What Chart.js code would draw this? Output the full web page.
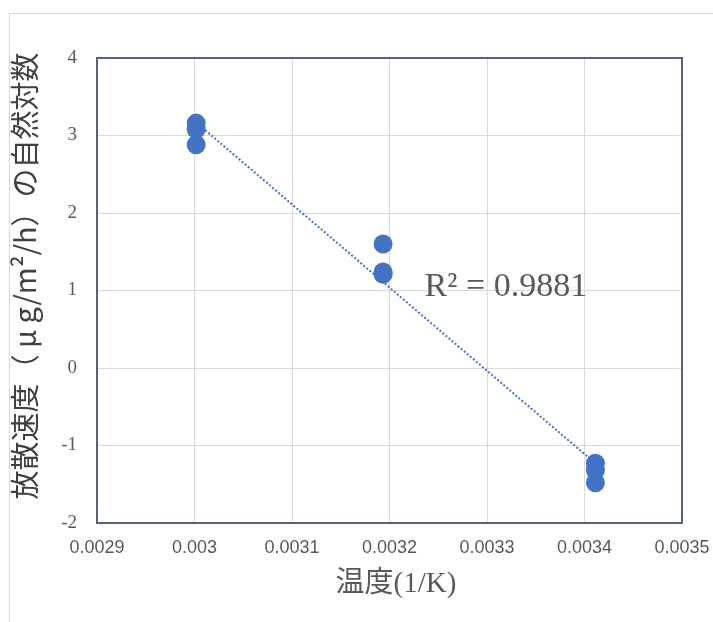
<!DOCTYPE html>
<html><head><meta charset="utf-8">
<script src="https://cdn.jsdelivr.net/npm/chart.js@4.4.1/dist/chart.umd.min.js"></script>
<style>
html,body{margin:0;padding:0;background:#fff;overflow:hidden}
#wrap{position:relative;width:713px;height:622px;overflow:hidden}
#frame{position:absolute;left:9px;top:13px;width:760px;height:700px;border:1px solid #d9d9d9;box-sizing:border-box;pointer-events:none}
canvas{position:absolute;left:0;top:0}
</style></head><body>
<div id="wrap"><canvas id="c" width="713" height="622"></canvas><div id="frame"></div></div>
<script>
// inverse temperature (1/K) of each measurement
const invTemp = [0.0030017, 0.0030017, 0.0030017, 0.0031934, 0.0031934, 0.0031934, 0.0034112, 0.0034112, 0.0034112];
// natural log of emission rate
const lnRate = [3.16, 3.08, 2.88, 1.60, 1.24, 1.21, -1.23, -1.32, -1.48];
const xTickLabels = ['0.0029', '0.003', '0.0031', '0.0032', '0.0033', '0.0034', '0.0035'];
const yTickLabels = ['-2', '-1', '0', '1', '2', '3', '4'];
const xTitle = '温度(1/K)';
const yTitle = '放散速度（ μ g/m²/h）の自然対数';
const r2Label = 'R² = 0.9881';
const r2Anchor = [0.003236, 0.93];

const points = invTemp.map((x, i) => ({x: x, y: lnRate[i]}));
// least squares trendline
const n = invTemp.length;
const mx = invTemp.reduce((a, b) => a + b, 0) / n;
const my = lnRate.reduce((a, b) => a + b, 0) / n;
let sxy = 0, sxx = 0;
for (let i = 0; i < n; i++) { sxy += (invTemp[i] - mx) * (lnRate[i] - my); sxx += (invTemp[i] - mx) ** 2; }
const slope = sxy / sxx, icpt = my - slope * mx;
const xmin = Math.min(...invTemp), xmax = Math.max(...invTemp);
const trend = [{x: xmin, y: icpt + slope * xmin}, {x: xmax, y: icpt + slope * xmax}];

const GRAY = '#595959';
const extras = {
  id: 'extras',
  afterDatasetsDraw(chart) {
    const {ctx, chartArea: a, scales} = chart;
    ctx.save();
    ctx.strokeStyle = '#56617c';
    ctx.lineWidth = 2;
    ctx.strokeRect(a.left, a.top, a.right - a.left, a.bottom - a.top);
    ctx.fillStyle = GRAY;
    ctx.font = '34px "Liberation Serif"';
    ctx.textBaseline = 'alphabetic';
    ctx.textAlign = 'left';
    ctx.fillText(r2Label, scales.x.getPixelForValue(r2Anchor[0]), scales.y.getPixelForValue(r2Anchor[1]));
    // y axis title
    ctx.save();
    ctx.translate(25, 276);
    ctx.rotate(-Math.PI / 2);
    ctx.fillStyle = '#404040';
    ctx.font = '29px "Noto Sans CJK JP"';
    ctx.textAlign = 'center';
    ctx.textBaseline = 'middle';
    ctx.fillText(yTitle, 0, 0);
    ctx.restore();
    // x axis title
    ctx.fillStyle = GRAY;
    ctx.font = '29px "Liberation Serif", "Noto Sans CJK JP"';
    ctx.textAlign = 'center';
    ctx.textBaseline = 'middle';
    ctx.fillText(xTitle, 396, 584);
    ctx.restore();
  }
};

new Chart(document.getElementById('c'), {
  type: 'scatter',
  data: {
    datasets: [
      {
        type: 'line', data: trend, order: 0,
        borderColor: '#4472C4', borderWidth: 2, borderDash: [2, 2],
        pointRadius: 0, fill: false
      },
      {
        data: points, order: 1,
        backgroundColor: '#4472C4', borderColor: '#4472C4',
        pointRadius: 9.5, pointHoverRadius: 9.5, borderWidth: 0
      }
    ]
  },
  options: {
    responsive: false,
    animation: false,
    events: [],
    layout: {padding: {top: 58, right: 31, bottom: 0, left: 0}},
    plugins: {legend: {display: false}, tooltip: {enabled: false}},
    scales: {
      x: {
        type: 'linear', min: 0.0029, max: 0.0035,
        afterFit: s => { s.height = 99; s.paddingRight = 0; s.paddingLeft = 0; },
        afterBuildTicks: s => { s.ticks = xTickLabels.map(t => ({value: parseFloat(t)})); },
        ticks: {
          padding: 14, color: GRAY, font: {family: '"Liberation Sans"', size: 18},
          callback: (v, i) => xTickLabels[i], maxRotation: 0, autoSkip: false
        },
        grid: {color: '#d9d9d9', lineWidth: 1, drawTicks: false},
        border: {display: false},
        title: {display: false}
      },
      y: {
        type: 'linear', min: -2, max: 4,
        afterFit: s => { s.width = 97; },
        afterBuildTicks: s => { s.ticks = yTickLabels.map(t => ({value: parseFloat(t)})); },
        ticks: {
          padding: 20, color: GRAY, font: {family: '"Liberation Serif"', size: 19},
          callback: (v, i) => yTickLabels[i], autoSkip: false
        },
        grid: {color: '#d9d9d9', lineWidth: 1, drawTicks: false},
        border: {display: false},
        title: {display: false}
      }
    }
  },
  plugins: [extras]
});
</script>
</body></html>
